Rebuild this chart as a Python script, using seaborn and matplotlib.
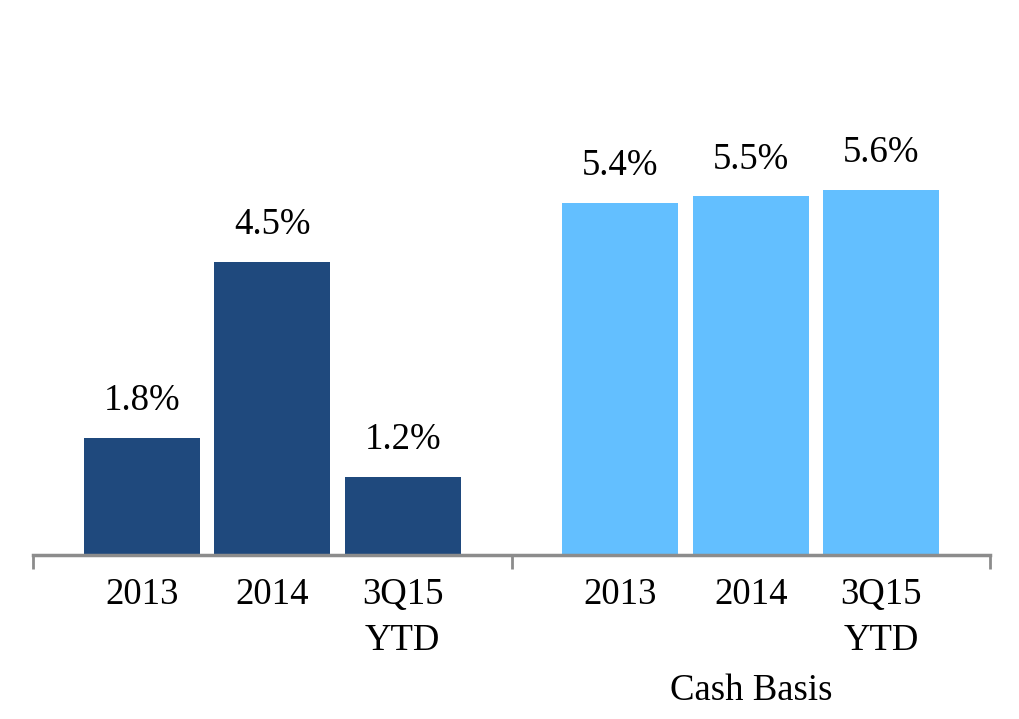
import pandas as pd
import matplotlib.pyplot as plt
import seaborn as sns

# dados do gráfico
grupos = ["GAAP", "Cash Basis"]
periodos = ["2013", "2014", "3Q15\nYTD"]
valores_gaap = [1.8, 4.5, 1.2]
valores_caixa = [5.4, 5.5, 5.6]
cores = ["#1F497D", "#63BFFF"]

df = pd.DataFrame({
    "grupo": [grupos[0]] * 3 + [grupos[1]] * 3,
    "periodo": periodos * 2,
    "valor": valores_gaap + valores_caixa,
})

sns.set_style("white")
plt.rcParams["font.family"] = ["Liberation Serif", "DejaVu Serif"]
plt.rcParams["text.color"] = "black"
plt.rcParams["xtick.color"] = "black"

fig = plt.figure(figsize=(10.19, 7.19), dpi=100)
ax = fig.add_axes([33 / 1019, 164 / 719, 957 / 1019, 555 / 719])

sns.barplot(data=df, x="grupo", y="valor", hue="periodo", order=grupos,
            hue_order=periodos, width=0.818, gap=0.111, legend=False,
            ax=ax, saturation=1)

# cor por grupo, não por período
centros, rotulos = [], []
for container in ax.containers:
    for i, barra in enumerate(container):
        barra.set_facecolor(cores[i])
        barra.set_edgecolor("none")
for i in range(len(grupos)):
    for j, container in enumerate(ax.containers):
        barra = container[i]
        cx = barra.get_x() + barra.get_width() / 2
        centros.append(cx)
        rotulos.append(periodos[j])
        ax.text(cx, barra.get_height() + 0.30, f"{barra.get_height():.1f}%",
                ha="center", va="bottom", fontsize=26.5, color="black")

ax.set_xlim(-0.5, 1.5)
ax.set_ylim(0, 8.51)

ax.set_xticks([-0.5, 0.5, 1.5])
ax.set_xticklabels([])
ax.tick_params(axis="x", which="major", length=10, width=2, color="#8C8C8C",
               direction="out", bottom=True)
ax.set_xticks(centros, minor=True)
ax.set_xticklabels(rotulos, minor=True, fontsize=26.5, linespacing=1.45,
                   color="black")
ax.tick_params(axis="x", which="minor", length=0, pad=16)
ax.set_yticks([])
ax.set_xlabel("")
ax.set_ylabel("")

for lado in ["top", "right", "left"]:
    ax.spines[lado].set_visible(False)
ax.spines["bottom"].set_color("#8C8C8C")
ax.spines["bottom"].set_linewidth(2.5)

ax.text(1, -0.245, "Cash Basis", transform=ax.get_xaxis_transform(),
        ha="center", va="center", fontsize=26.5, color="black")

plt.savefig("out.png", dpi=100)
